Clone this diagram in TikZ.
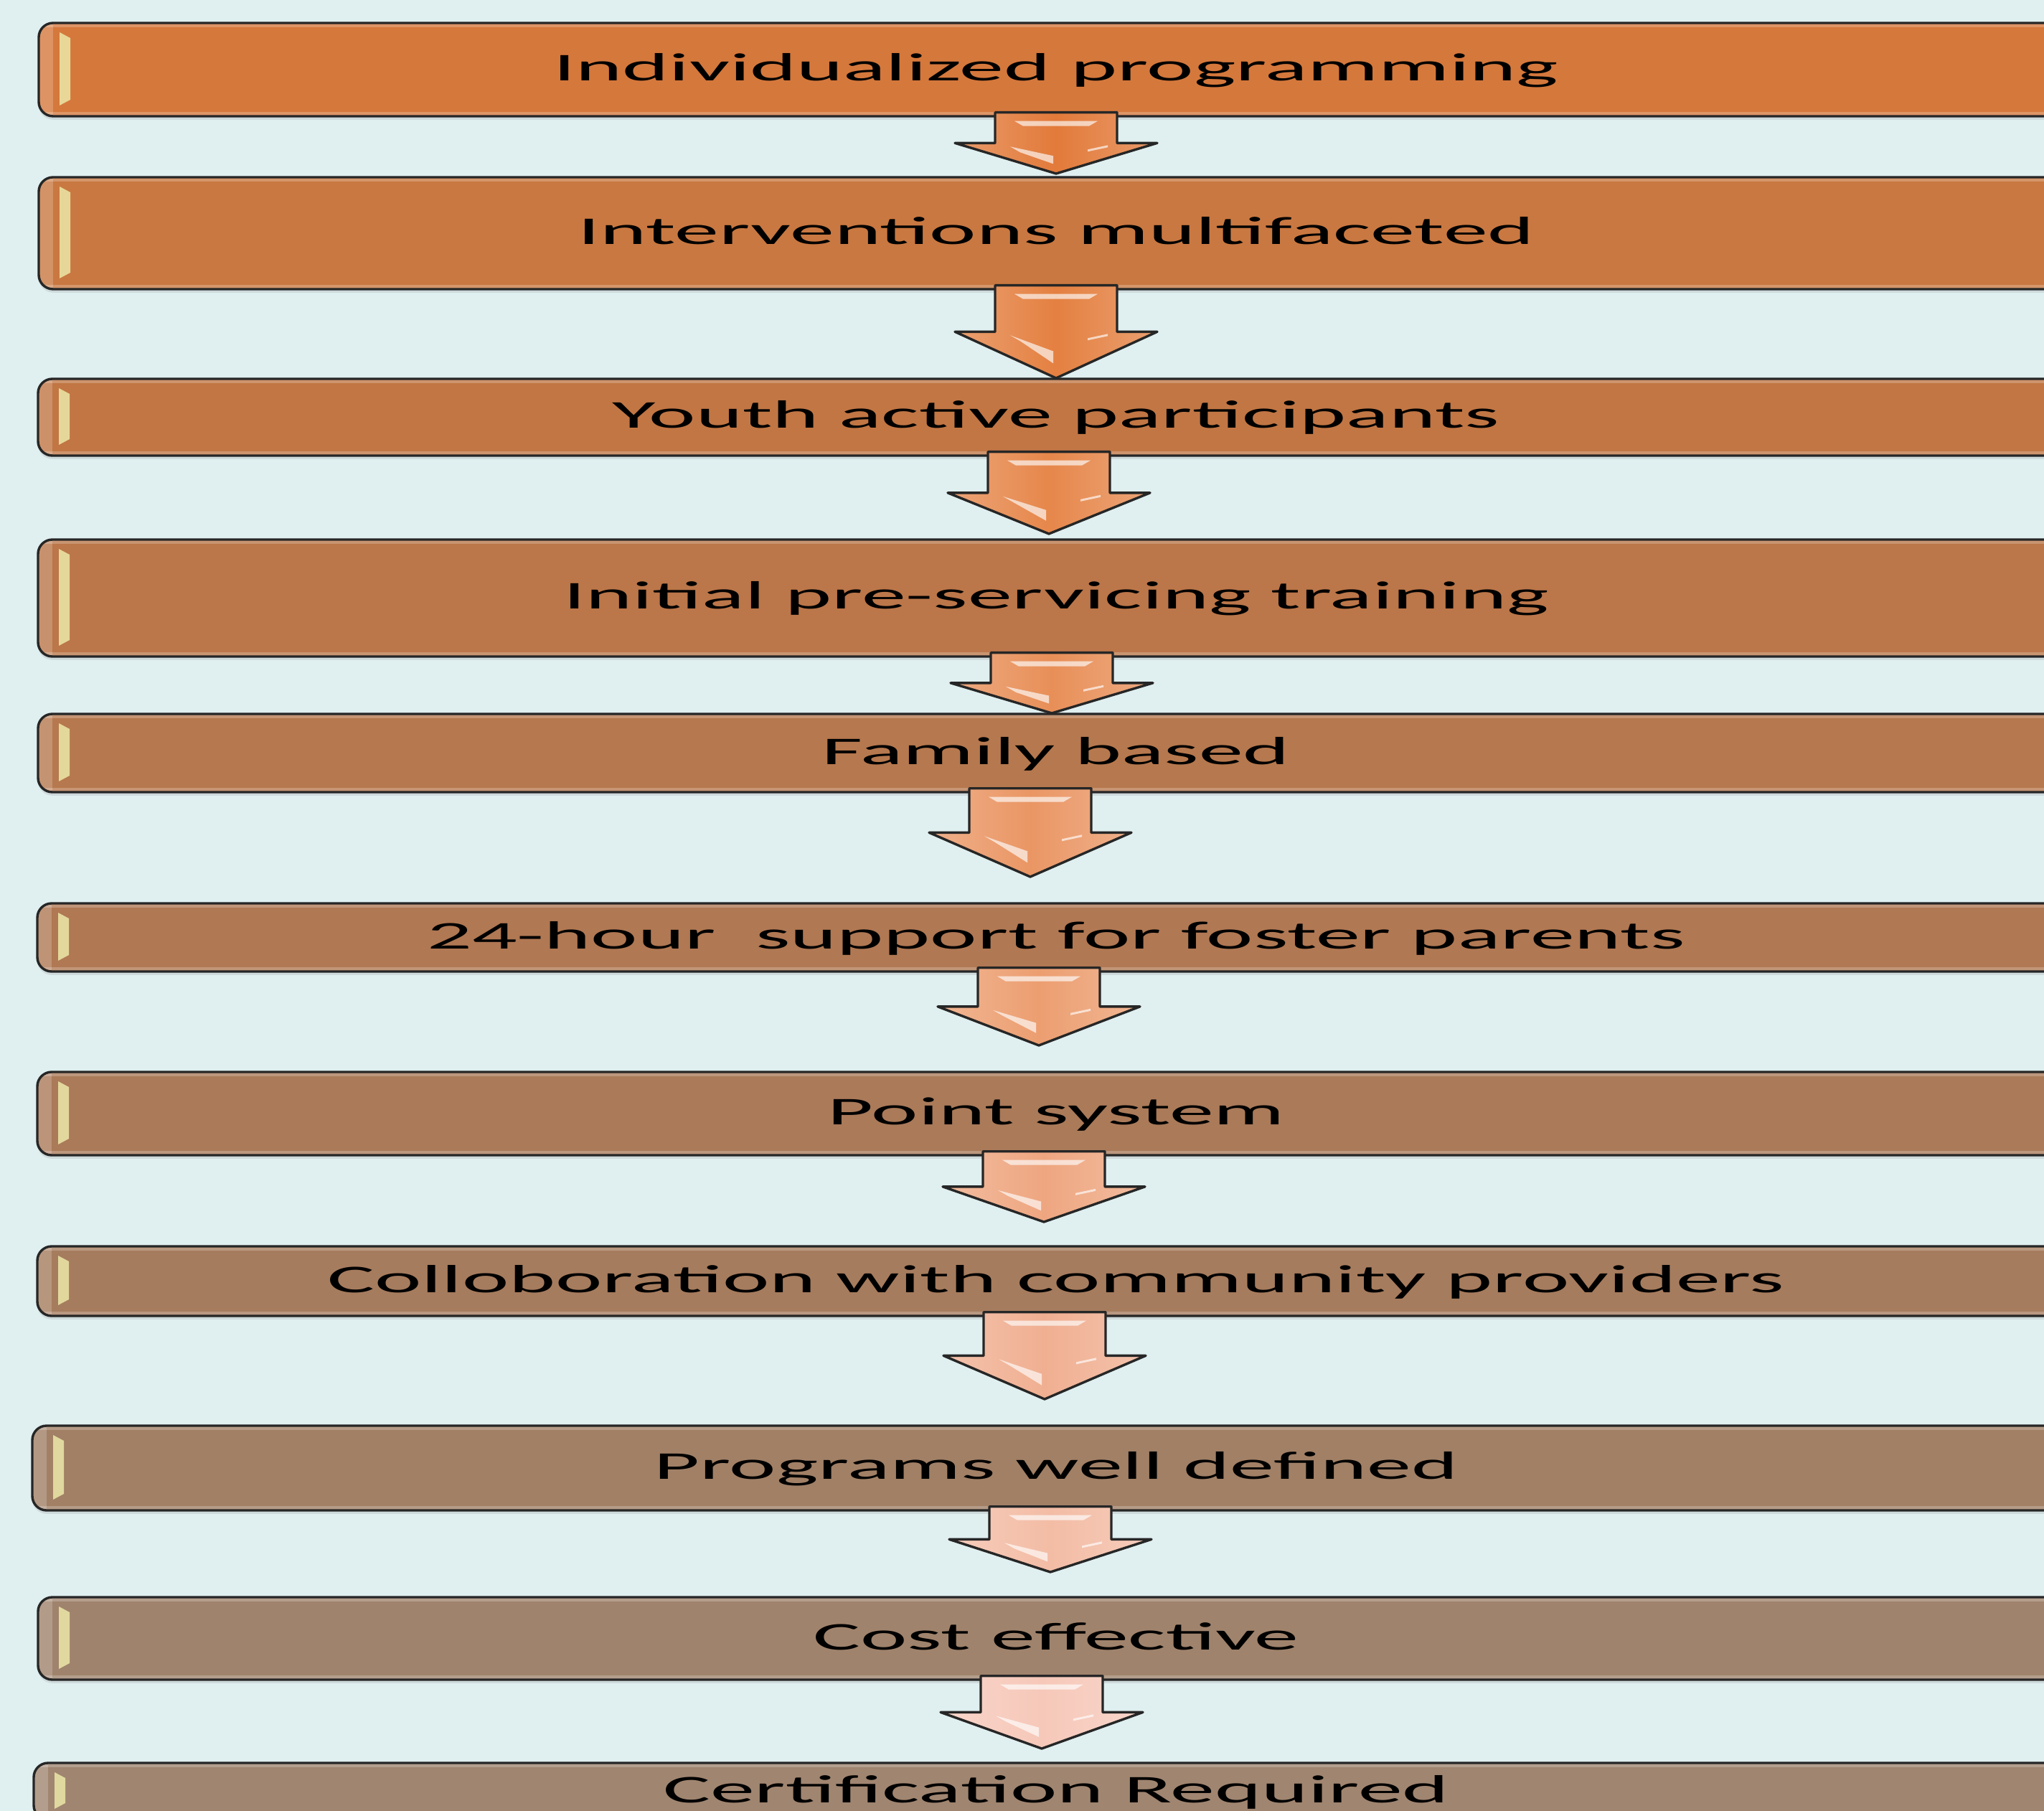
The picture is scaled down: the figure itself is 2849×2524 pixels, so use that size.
\documentclass[tikz,border=0pt]{standalone}
\usepackage{fontspec}
\setmainfont{Carlito}
\usepackage{graphicx}
\usetikzlibrary{calc, shadows}
\definecolor{bgCol}{RGB}{224,239,240}
\definecolor{gleamCol}{RGB}{236,232,168}
\definecolor{barFillA}{RGB}{213,120,60}
\definecolor{barFillB}{RGB}{201,120,65}
\definecolor{barFillC}{RGB}{193,118,68}
\definecolor{barFillD}{RGB}{187,118,73}
\definecolor{barFillE}{RGB}{182,120,78}
\definecolor{barFillF}{RGB}{176,120,83}
\definecolor{barFillG}{RGB}{170,122,89}
\definecolor{barFillH}{RGB}{166,124,94}
\definecolor{barFillI}{RGB}{161,128,102}
\definecolor{barFillJ}{RGB}{160,131,108}
\definecolor{barFillK}{RGB}{160,133,112}
\definecolor{arwFillA}{RGB}{226,122,58}
\definecolor{arwFillB}{RGB}{228,128,65}
\definecolor{arwFillC}{RGB}{230,135,75}
\definecolor{arwFillD}{RGB}{232,143,88}
\definecolor{arwFillE}{RGB}{234,150,100}
\definecolor{arwFillF}{RGB}{236,158,112}
\definecolor{arwFillG}{RGB}{238,166,128}
\definecolor{arwFillH}{RGB}{240,175,145}
\definecolor{arwFillI}{RGB}{243,188,165}
\definecolor{arwFillJ}{RGB}{246,200,185}
\def\px{0.25pt}
\newcommand{\widetext}[1]{\scalebox{2.26}[1]{#1}}
\tikzset{
  every node/.style={font=\fontsize{13.7}{16}\selectfont},
  BAR/.style={draw=black!85, line width=0.85pt, rounded corners=5pt, inner sep=0pt,
    text height=10pt, text depth=2.25pt,
    drop shadow={shadow xshift=0pt, shadow yshift=-1.2pt, opacity=0.18},
    path picture={
      \fill[white, opacity=0.22, sharp corners] (path picture bounding box.north west)
        rectangle ([yshift=-1.6pt]path picture bounding box.north east);
      \fill[white, opacity=0.22, sharp corners] (path picture bounding box.south west)
        rectangle ([yshift=1.6pt]path picture bounding box.south east);
      \fill[white, opacity=0.2, sharp corners] (path picture bounding box.north west)
        rectangle ([xshift=5pt]path picture bounding box.south west);
      \fill[gleamCol, opacity=0.85, sharp corners] ([xshift=7.25pt,yshift=-3.25pt]path picture bounding box.north west)
        -- ([xshift=11pt,yshift=-5.25pt]path picture bounding box.north west)
        -- ([xshift=11pt,yshift=5.75pt]path picture bounding box.south west)
        -- ([xshift=7.25pt,yshift=3.75pt]path picture bounding box.south west) -- cycle;
    }},
  ARW/.style={draw=black!85, line width=0.85pt, line join=round},
  SHEEN/.style={white, opacity=0.65},
}
% #1 bar above, #2 tip coordinate, #3 fill colour
\newcommand{\flowarrow}[3]{%
  \path (#2 |- #1.south) ++(0,-7) coordinate (#2top);
  \coordinate (#2sh) at ($(#2top)!0.5!(#2)$);
  \path[ARW, left color=#3!75!white, right color=#3!75!white, middle color=#3]
    ($(#2top)+(-85,0)$) -- ($(#2top)+(85,0)$) -- ($(#2sh)+(85,0)$) -- ($(#2sh)+(141,0)$)
    -- (#2) -- ($(#2sh)+(-141,0)$) -- ($(#2sh)+(-85,0)$) -- cycle;
  \fill[SHEEN] ($(#2top)+(-58,12)$) -- ($(#2top)+(58,12)$) -- ($(#2top)+(46,19)$) -- ($(#2top)+(-46,19)$) -- cycle;
  \fill[SHEEN] ($(#2sh)+(-64,5)$) -- ($(#2sh)!0.42!(#2)+(-4,0)$) -- ($(#2sh)!0.68!(#2)+(-4,0)$) -- ($(#2sh)+(-50,13)$) -- cycle;
  \fill[SHEEN] ($(#2sh)+(44,9)$) -- ($(#2sh)+(72,3)$) -- ($(#2sh)+(72,6)$) -- ($(#2sh)+(44,12)$) -- cycle;
}

\begin{document}
\begin{tikzpicture}[x=1*\px, y=1*\px, yscale=-1]

\useasboundingbox (0,0) rectangle (2849,2524);
\clip (0,0) rectangle (2849,2524);
\fill[bgCol] (0,0) rectangle (2849,2524);

%% bars
\node[BAR, fill=barFillA, minimum width=2836*\px, minimum height=130*\px] (ind) at (1472,97)
  {\widetext{Individualized programming}};
\node[BAR, fill=barFillB, minimum width=2836*\px, minimum height=156*\px] (intv) at (1472,325)
  {\widetext{Interventions multifaceted}};
\node[BAR, fill=barFillC, minimum width=2838*\px, minimum height=107*\px] (youth) at (1472,581.5)
  {\widetext{Youth active participants}};
\node[BAR, fill=barFillD, minimum width=2838*\px, minimum height=163*\px] (init) at (1472,833.5)
  {\widetext{Initial pre-servicing training}};
\node[BAR, fill=barFillE, minimum width=2838*\px, minimum height=109*\px] (fam) at (1472,1049.5)
  {\widetext{Family based}};
\node[BAR, fill=barFillF, minimum width=2840*\px, minimum height=95*\px] (supp) at (1472,1306.5)
  {\widetext{24-hour\ \ support for foster parents}};
\node[BAR, fill=barFillG, minimum width=2840*\px, minimum height=116*\px] (point) at (1472,1552)
  {\widetext{Point system}};
\node[BAR, fill=barFillH, minimum width=2840*\px, minimum height=97*\px] (collab) at (1472,1785.5)
  {\widetext{Colloboration with community providers}};
\node[BAR, fill=barFillI, minimum width=2854*\px, minimum height=118*\px] (prog) at (1472,2046)
  {\widetext{Programs well defined}};
\node[BAR, fill=barFillJ, minimum width=2838*\px, minimum height=115*\px] (cost) at (1472,2283.5)
  {\widetext{Cost effective}};
\node[BAR, fill=barFillK, minimum width=2850*\px, minimum height=79*\px] (cert) at (1472,2496.5)
  {\widetext{Certification Required}};

%% arrow tips
\coordinate (e1) at (1472,242);
\coordinate (e2) at (1472,527);
\coordinate (e3) at (1462,744);
\coordinate (e4) at (1466,994);
\coordinate (e5) at (1436,1222);
\coordinate (e6) at (1448,1457);
\coordinate (e7) at (1455,1703);
\coordinate (e8) at (1456,1950);
\coordinate (e9) at (1464,2191);
\coordinate (e10) at (1452,2437);

\flowarrow{ind}{e1}{arwFillA}
\flowarrow{intv}{e2}{arwFillB}
\flowarrow{youth}{e3}{arwFillC}
\flowarrow{init}{e4}{arwFillD}
\flowarrow{fam}{e5}{arwFillE}
\flowarrow{supp}{e6}{arwFillF}
\flowarrow{point}{e7}{arwFillG}
\flowarrow{collab}{e8}{arwFillH}
\flowarrow{prog}{e9}{arwFillI}
\flowarrow{cost}{e10}{arwFillJ}

\end{tikzpicture}
\end{document}
